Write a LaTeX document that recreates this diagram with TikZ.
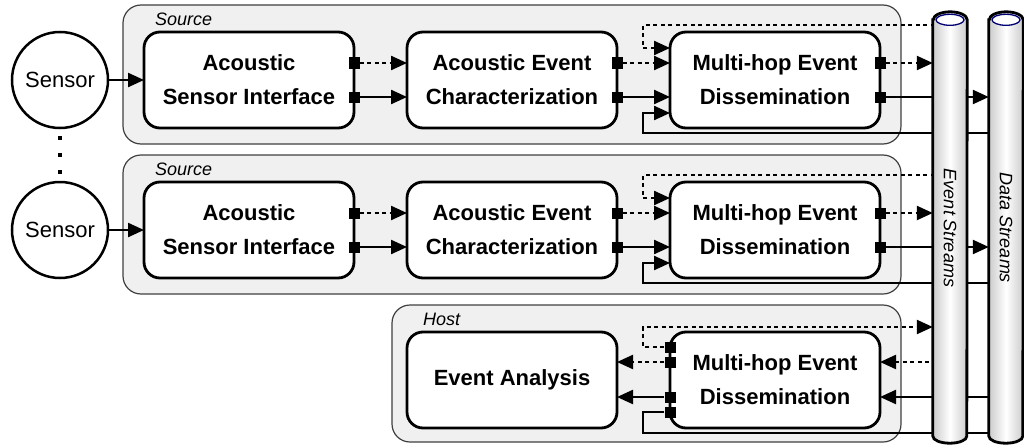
\documentclass[tikz,border=0pt]{standalone}
\usepackage{fontspec}
\setmainfont{Liberation Sans}
\usepackage{tikz}
\usetikzlibrary{arrows.meta,positioning,calc,backgrounds}
\tikzset{
    block/.style={
        rectangle,
        rounded corners=16pt,
        draw=black,
        line width=2.8pt,
        fill=white,
        minimum width=210pt,
        minimum height=96pt,
        outer sep=0pt,
        align=center,
        font=\fontsize{22}{34}\selectfont\bfseries,
    },
    sensor/.style={
        circle,
        draw=black,
        line width=2.5pt,
        fill=white,
        minimum size=96pt,
        outer sep=0pt,
        font=\fontsize{22}{26}\selectfont,
    },
    port/.style={
        rectangle,
        fill=black,
        minimum size=11pt,
        inner sep=0pt,
    },
    vdot/.style={
        rectangle,
        fill=black,
        minimum size=4.5pt,
        inner sep=0pt,
    },
    group/.style={
        draw=black!75,
        line width=1.2pt,
        fill=black!6,
        rounded corners=18pt,
    },
    grouplabel/.style={
        anchor=west,
        inner sep=0pt,
        font=\fontsize{18}{20}\selectfont\itshape,
    },
    flow/.style={
        draw,
        line width=2.3pt,
        ->,
    },
    evflow/.style={
        flow,
        dash pattern=on 4pt off 3.5pt,
    },
    stream/.style={
        rectangle,
        minimum width=34pt,
        minimum height=416pt,
        inner sep=0pt,
    },
    streambody/.style={
        draw=black,
        line width=2.8pt,
        left color=black!20,
        right color=black!20,
        middle color=white,
    },
    streamtop/.style={
        draw=blue!45!black,
        line width=1.3pt,
        fill=white,
    },
    streamtext/.style={
        rotate=-90,
        font=\fontsize{18}{20}\selectfont\itshape,
    },
    node distance=53pt,
}

\begin{document}
\begin{tikzpicture}[x=1pt,y=1pt,>={Triangle[length=16pt,width=14pt]}]
    \useasboundingbox (0,0) rectangle (1024,-444);

    % source rows
    \node [block] at (249,-80) (asi1) {Acoustic\\Sensor Interface};
    \node [block, right=of asi1] (aec1) {Acoustic Event\\Characterization};
    \node [block, right=of aec1] (mh1) {Multi-hop Event\\Dissemination};
    \node [sensor, left=36pt of asi1] (sen1) {Sensor};

    \node [block, below=54pt of asi1] (asi2) {Acoustic\\Sensor Interface};
    \node [block, right=of asi2] (aec2) {Acoustic Event\\Characterization};
    \node [block, right=of aec2] (mh2) {Multi-hop Event\\Dissemination};
    \node [sensor, left=36pt of asi2] (sen2) {Sensor};

    \foreach \i/\dy in {1/17,2/0,3/-17}
        \node [vdot] (dot\i) at ($(sen1)!0.5!(sen2)+(0,\dy)$) {};

    % host row
    \node [block, below=54pt of mh2] (mhh) {Multi-hop Event\\Dissemination};
    \node [block, left=of mhh] (ea) {Event Analysis};

    \foreach \r in {1,2} {
        \node [grouplabel] (src\r) at ($(asi\r.north west)+(11,13)$) {Source};
        \foreach \b in {asi,aec,mh} {
            \node [port] (\b\r-e) at ($(\b\r.east)+(0,17)$) {};
            \node [port] (\b\r-d) at ($(\b\r.east)+(0,-17)$) {};
        }
    }
    \node [grouplabel] (host) at ($(ea.north west)+(16,13)$) {Host};
    \node [port] (mhh-l) at ($(mhh.west)+(0,33)$) {};
    \node [port] (mhh-e) at ($(mhh.west)+(0,18)$) {};
    \node [port] (mhh-d) at ($(mhh.west)+(0,-17)$) {};
    \node [port] (mhh-b) at ($(mhh.west)+(0,-32)$) {};

    % streams
    \node [stream] (evs) at (950,-228) {};
    \node [stream] (dts) at (1006,-228) {};
    \foreach \c/\t in {evs/Event Streams, dts/Data Streams} {
        \draw [streambody] (\c.north west) -- (\c.south west)
            arc [start angle=180, end angle=360, x radius=17pt, y radius=7pt]
            -- (\c.north east)
            arc [start angle=0, end angle=180, x radius=17pt, y radius=8pt] -- cycle;
        \draw [streamtop] (\c.north) ellipse [x radius=14pt, y radius=5.5pt];
        \node [streamtext] (\c-t) at (\c) {\t};
    }

    \begin{scope}[on background layer]
        \foreach \r in {1,2}
            \draw [group] ($(asi\r.north west)+(-21,27)$) rectangle ($(mh\r.south east)+(21,-16)$);
        \draw [group] ($(ea.north west)+(-15,27)$) rectangle ($(mhh.south east)+(21,-14)$);

        \foreach \r in {1,2} {
            \draw [flow] (sen\r) -- (asi\r);
            \draw [evflow] (asi\r-e) -- (aec\r.west |- asi\r-e);
            \draw [flow] (asi\r-d) -- (aec\r.west |- asi\r-d);
            \draw [evflow] (aec\r-e) -- (mh\r.west |- aec\r-e);
            \draw [flow] (aec\r-d) -- (mh\r.west |- aec\r-d);
            \draw [evflow] (mh\r-e) -- (evs.west |- mh\r-e);
            \draw [flow] (mh\r-d) -- (dts.west |- mh\r-d);
            \draw [evflow,<-] ($(mh\r.west)+(0,32)$) -- ++(-27,0) -- ++(0,23) coordinate (top\r) -- (top\r -| evs.west);
            \draw [flow,<-] ($(mh\r.west)+(0,-33)$) -- ++(-27,0) -- ++(0,-20) coordinate (bot\r) -- (bot\r -| dts.west);
        }

        \draw [evflow] (mhh-e) -- (ea.east |- mhh-e);
        \draw [flow] (mhh-d) -- (ea.east |- mhh-d);
        \draw [evflow] (mhh-l) -- ++(-27,0) -- ++(0,20) coordinate (toph) -- (toph -| evs.west);
        \draw [flow,-] (mhh-b) -- ++(-27,0) -- ++(0,-21) coordinate (both) -- (both -| dts.west);
        \draw [evflow,<-] (mhh.east |- mhh-e) -- (evs.west |- mhh-e);
        \draw [flow,<-] (mhh.east |- mhh-d) -- (dts.west |- mhh-d);
    \end{scope}
\end{tikzpicture}
\end{document}
